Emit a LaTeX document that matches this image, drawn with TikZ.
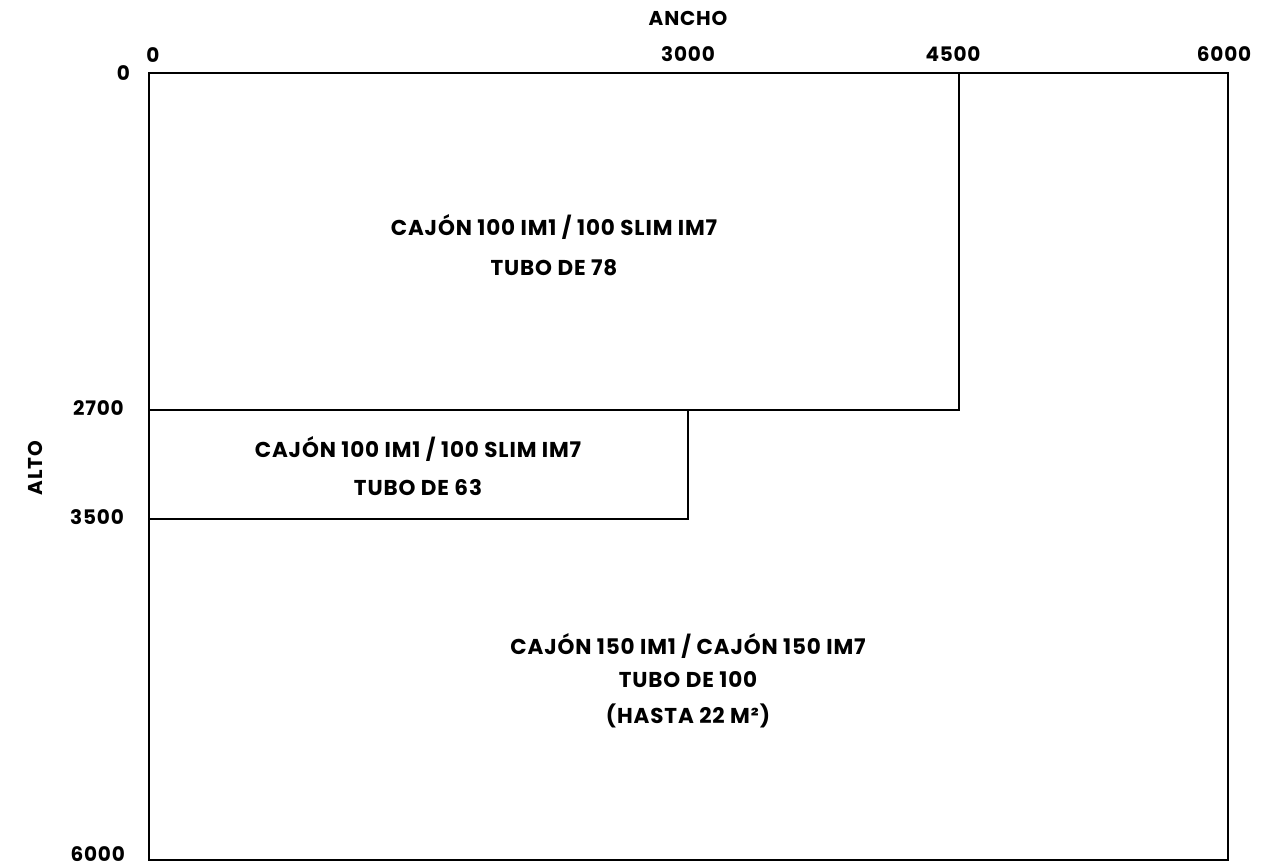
\documentclass[tikz,border=0pt]{standalone}
\usepackage{fontspec}
\setmainfont{Poppins}[UprightFont={Poppins Bold},BoldFont={Poppins Bold},LetterSpace=4]
\begin{document}
\begin{tikzpicture}[x=1pt,y=-1pt,
  box/.style={draw=black,line width=2.6pt},
  lbl/.style={font=\fontsize{21.5}{24}\selectfont,inner sep=0pt,align=center},
  axis/.style={font=\fontsize{20}{22}\selectfont,inner sep=0pt}]
\useasboundingbox[fill=white] (0,0) rectangle (1281,866);
% rectangles
\coordinate (o) at (149,73);
\draw[box] (149,73) rectangle (1228,860);
\draw[box] (149,73) rectangle (959,410);
\draw[box] (149,410) rectangle (688,519);
% axis labels
\node[axis] (ancho) at (688,18) {ANCHO};
\node[axis] (x0) at (153,55) {0};
\node[axis] (x3000) at (688,54) {3000};
\node[axis] (x4500) at (953,54) {4500};
\node[axis] (x6000) at (1224,54) {6000};
\node[axis,anchor=east] (y0) at (130,73) {0};
\node[axis,anchor=east] (y2700) at (124,408) {2700};
\node[axis,anchor=east] (y3500) at (124,517) {3500};
\node[axis,anchor=east] (y6000) at (125,854) {6000};
\node[axis,rotate=90] (alto) at (35,468) {ALTO};
% region labels
\node[lbl] (r1a) at (554,227) {CAJÓN 100 IM1 / 100 SLIM IM7};
\node[lbl] (r1b) at (554,268) {TUBO DE 78};
\node[lbl] (r2a) at (418,449) {CAJÓN 100 IM1 / 100 SLIM IM7};
\node[lbl] (r2b) at (418,488) {TUBO DE 63};
\node[lbl] (r3a) at (688,646) {CAJÓN 150 IM1 / CAJÓN 150 IM7};
\node[lbl] (r3b) at (688,680) {TUBO DE 100};
\node[lbl] (r3c) at (688,716) {(HASTA 22 M²)};
\end{tikzpicture}
\end{document}
